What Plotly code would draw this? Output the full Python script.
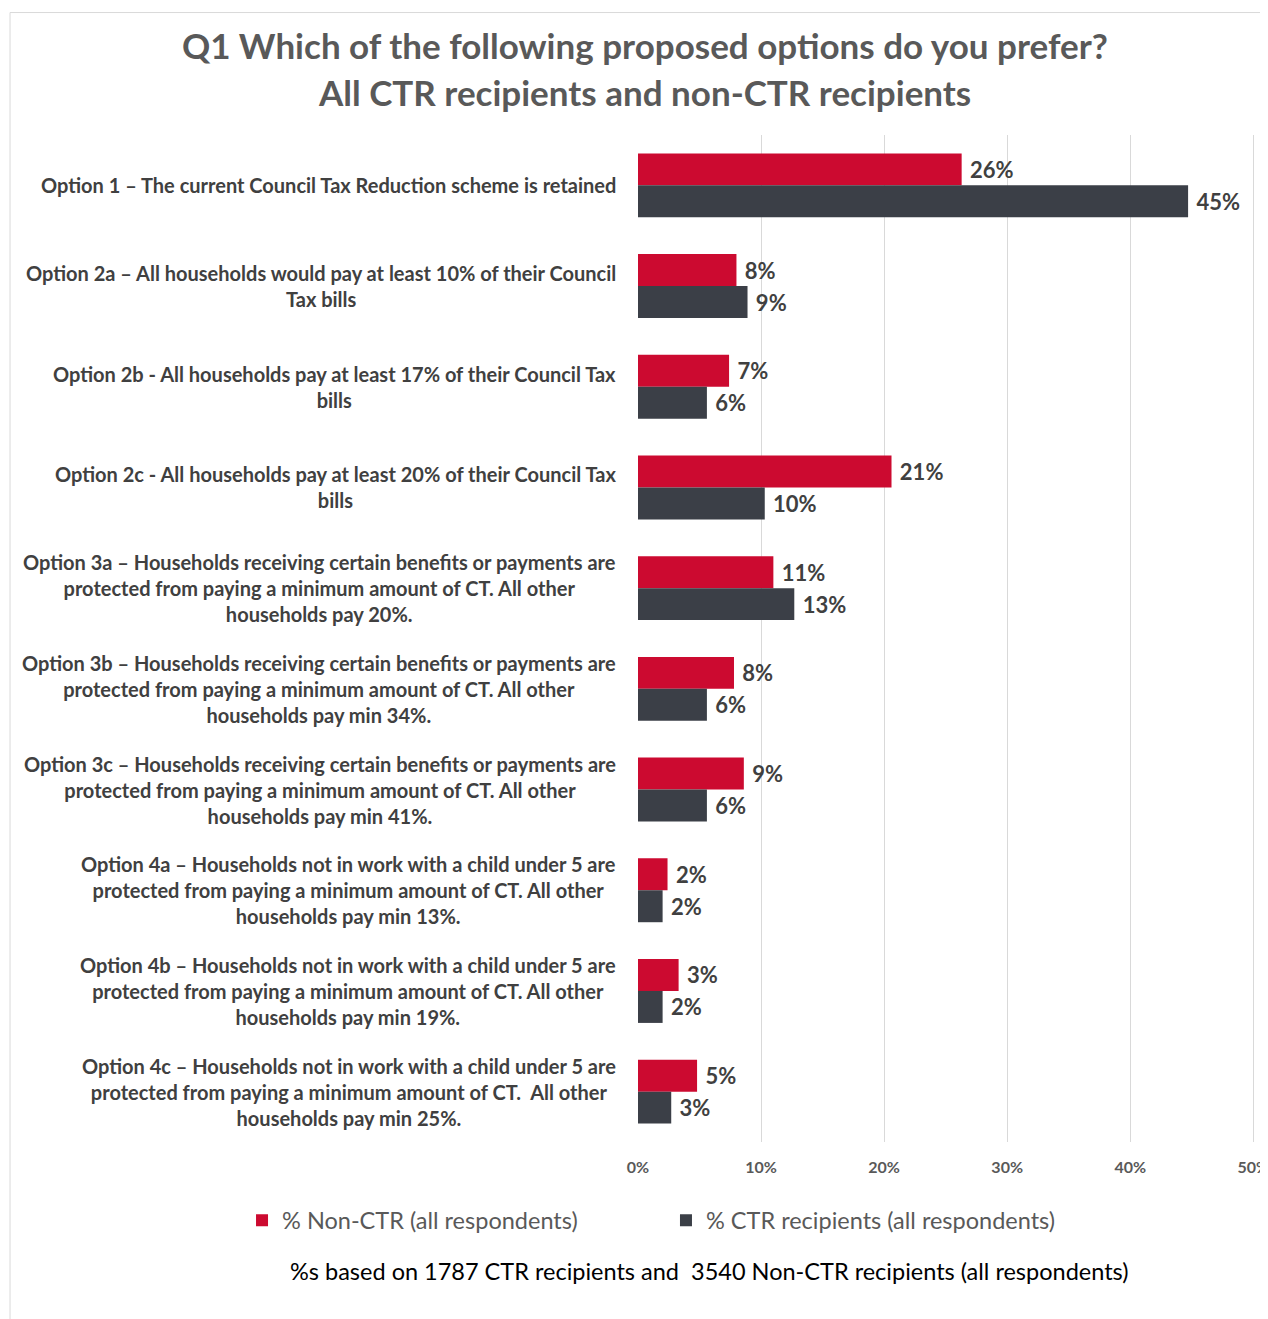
import plotly.graph_objects as go

categories = [
    "Option 1 – The current Council Tax Reduction scheme is retained",
    "Option 2a – All households would pay at least 10% of their Council<br>Tax bills",
    "Option 2b - All households pay at least 17% of their Council Tax<br>bills",
    "Option 2c - All households pay at least 20% of their Council Tax<br>bills",
    "Option 3a – Households receiving certain benefits or payments are<br>protected from paying a minimum amount of CT. All other<br>households pay 20%.",
    "Option 3b – Households receiving certain benefits or payments are<br>protected from paying a minimum amount of CT. All other<br>households pay min 34%.",
    "Option 3c – Households receiving certain benefits or payments are<br>protected from paying a minimum amount of CT. All other<br>households pay min 41%.",
    "Option 4a – Households not in work with a child under 5 are<br>protected from paying a minimum amount of CT. All other<br>households pay min 13%.",
    "Option 4b – Households not in work with a child under 5 are<br>protected from paying a minimum amount of CT. All other<br>households pay min 19%.",
    "Option 4c – Households not in work with a child under 5 are<br>protected from paying a minimum amount of CT.  All other<br>households pay min 25%.",
]
non_ctr = [26.3, 8.0, 7.4, 20.6, 11.0, 7.8, 8.6, 2.4, 3.3, 4.8]
ctr = [44.7, 8.9, 5.6, 10.3, 12.7, 5.6, 5.6, 2.0, 2.0, 2.7]
x_ticks = [0, 10, 20, 30, 40, 50]
x_tick_labels = ["0%", "10%", "20%", "30%", "40%", "50%"]
series_names = ["% Non-CTR (all respondents)", "% CTR recipients (all respondents)"]
title_lines = ["Q1 Which of the following proposed options do you prefer?",
               "All CTR recipients and non-CTR recipients"]
footnote = "%s based on 1787 CTR recipients and  3540 Non-CTR recipients (all respondents)"

RED = "#CC0A30"
DARK = "#3B3F47"
FONT = "Lato"

fig = go.Figure()
legend_specs = [("legend", -0.6397), ("legend2", 0.0452)]
for (name, vals, col), (lg, lx) in zip(
        [(series_names[0], non_ctr, RED), (series_names[1], ctr, DARK)], legend_specs):
    fig.add_trace(go.Bar(
        y=categories, x=vals, name=name, orientation="h",
        marker=dict(color=col, line=dict(width=0)),
        texttemplate="\u00a0%{x:.0f}%", textposition="outside",
        textfont=dict(family=FONT, size=22, color="#404040", weight="bold"),
        cliponaxis=False, legend=lg,
    ))

annotations = []
for c in categories:
    annotations.append(dict(
        x=0, xref="paper", y=c, yref="y", xanchor="right", yanchor="middle",
        xshift=-20, text=c, showarrow=False, align="center",
        font=dict(family=FONT, size=20, color="#404040", weight="bold"),
    ))
for txt, yp in zip(title_lines, [1.089, 1.043]):
    annotations.append(dict(
        x=0.0113, xref="paper", y=yp, yref="paper", xanchor="center", yanchor="middle",
        text=txt, showarrow=False,
        font=dict(family=FONT, size=35, color="#595959", weight="bold"),
    ))
annotations.append(dict(
    x=0.1163, xref="paper", y=-0.1285, yref="paper", xanchor="center", yanchor="middle",
    text=footnote, showarrow=False,
    font=dict(family=FONT, size=23.5, color="#000000"),
))

legend_common = dict(orientation="h", y=-0.078, yanchor="middle", xanchor="left",
                     font=dict(family=FONT, size=23.5, color="#595959"),
                     bgcolor="rgba(0,0,0,0)")

fig.update_layout(
    width=1260, height=1311, autosize=False,
    margin=dict(l=630, r=11, t=127, b=177),
    paper_bgcolor="white", plot_bgcolor="white",
    barmode="group", bargap=0.365, bargroupgap=0,
    font=dict(family=FONT),
    showlegend=True,
    legend=dict(x=legend_specs[0][1], **legend_common),
    legend2=dict(x=legend_specs[1][1], **legend_common),
    annotations=annotations,
    shapes=[dict(type="rect", xref="paper", yref="paper",
                 x0=-1.0145, x1=1.1, y0=-0.3, y1=1.1216,
                 line=dict(color="#D9D9D9", width=1), fillcolor="rgba(0,0,0,0)", layer="below")],
)
fig.update_xaxes(range=[0, 50.3], tickvals=x_ticks, ticktext=x_tick_labels,
                 showgrid=True, gridcolor="#D9D9D9", gridwidth=1, zeroline=False,
                 showline=False, ticks="", ticklabelstandoff=14, ticklabeloverflow="allow",
                 automargin=False,
                 tickfont=dict(family=FONT, size=16, color="#595959", weight="bold"))
fig.update_yaxes(categoryorder="array", categoryarray=categories, autorange="reversed",
                 automargin=False,
                 showticklabels=False, showgrid=False, zeroline=False, showline=False, ticks="")

fig.write_html("out.html")
